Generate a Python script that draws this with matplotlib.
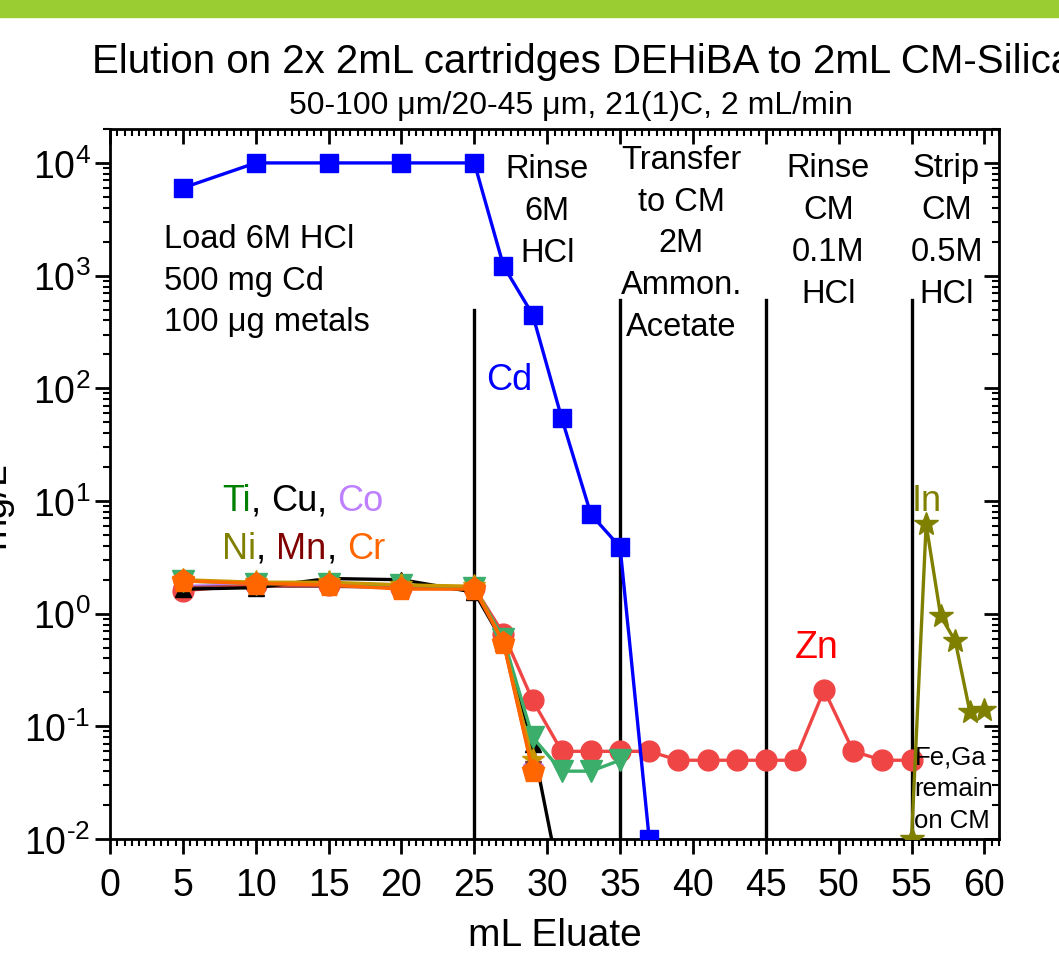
import matplotlib
matplotlib.use("Agg")
import matplotlib.pyplot as plt
from matplotlib.ticker import MultipleLocator, LogLocator, NullFormatter, FuncFormatter
import numpy as np

plt.rcParams["font.family"] = ["Liberation Sans", "DejaVu Sans"]
plt.rcParams["mathtext.fontset"] = "custom"
plt.rcParams["mathtext.rm"] = "Liberation Sans"
plt.rcParams["mathtext.it"] = "Liberation Sans:italic"

# data (mg/L vs mL eluate)
x_cd = [5, 10, 15, 20, 25, 27, 29, 31, 33, 35, 37]
cd = [6000, 10000, 10000, 10000, 10000, 1220, 450, 54, 7.6, 3.9, 0.01]

x_zn = [5, 10, 15, 20, 25, 27, 29, 31, 33, 35, 37, 39, 41, 43, 45, 47, 49, 51, 53, 55]
zn = [1.6, 1.8, 1.8, 1.7, 1.7, 0.66, 0.17, 0.06, 0.06, 0.06, 0.06, 0.05, 0.05,
      0.05, 0.05, 0.05, 0.21, 0.06, 0.05, 0.05]

x_ti = [5, 10, 15, 20, 25, 27, 29, 31, 33, 35]
ti = [1.95, 1.85, 1.85, 1.8, 1.7, 0.6, 0.08, 0.04, 0.04, 0.05]

x_cu = [5, 10, 15, 20, 25, 27, 29, 31]
cu = [1.65, 1.7, 2.05, 2.0, 1.55, 0.55, 0.07, 0.0035]

x_metal = [5, 10, 15, 20, 25, 27, 29]
co = [1.75, 1.8, 1.8, 1.7, 1.7, 0.58, 0.045]
mn = [1.7, 1.75, 1.75, 1.7, 1.65, 0.56, 0.042]
ni = [2.0, 1.9, 1.9, 1.8, 1.75, 0.55, 0.05]
cr = [1.95, 1.85, 1.8, 1.65, 1.65, 0.55, 0.04]

x_in = [55, 56, 57, 58, 59, 60]
indium = [0.01, 6.2, 0.95, 0.57, 0.135, 0.14]

step_edges = [25, 35, 45, 55]
step_tops = [500, 610, 610, 610]

fig = plt.figure(figsize=(10.59, 9.62), dpi=100)
ax = fig.add_axes([110 / 1059, 122 / 962, 889 / 1059, 710 / 962])

# green strip at the top of the slide
fig.patches.append(plt.Rectangle((0, 1 - 18 / 962), 1, 18 / 962, transform=fig.transFigure,
                                 color="#9acd32", zorder=0))

for xe, yt in zip(step_edges, step_tops):
    ax.plot([xe, xe], [0.01, yt], color="black", lw=2.4, zorder=2)

lw = 2.4
ax.plot(x_metal, co, color="#bf80ff", marker="D", ms=10, lw=lw, zorder=3)
ax.plot(x_metal, mn, color="#8b4040", marker="v", ms=12, lw=lw, zorder=3)
ax.plot(x_zn, zn, color="#ef4545", marker="o", ms=15, lw=lw, zorder=3)
ax.plot(x_cu, cu, color="black", marker="^", ms=11, lw=lw, zorder=3)
ax.plot(x_ti, ti, color="#3aae6a", marker="v", ms=16, lw=lw, zorder=4)
ax.plot(x_metal, ni, color="#c89600", marker="*", ms=17, lw=lw, zorder=4)
ax.plot(x_metal, cr, color="#ff6600", marker="p", ms=17, lw=lw, zorder=5)
ax.plot(x_in, indium, color="#808000", marker="*", ms=18, lw=lw, zorder=5)
ax.plot(x_cd, cd, color="#0000ff", marker="s", ms=13, lw=lw, zorder=6)

ax.set_yscale("log")
ax.set_xlim(0, 61)
ax.set_ylim(0.01, 2e4)


def pow_label(v, pos):
    e = int(round(np.log10(v)))
    if e < 0:
        return r"$\mathregular{10^{\text{-}%d}}$" % (-e)
    return r"$\mathregular{10^{%d}}$" % e


ax.xaxis.set_major_locator(MultipleLocator(5))
ax.xaxis.set_minor_locator(MultipleLocator(0.5))
ax.yaxis.set_major_locator(LogLocator(base=10, numticks=10))
ax.yaxis.set_major_formatter(FuncFormatter(pow_label))
ax.yaxis.set_minor_locator(LogLocator(base=10, subs=range(2, 10), numticks=10))
ax.yaxis.set_minor_formatter(NullFormatter())

ax.tick_params(which="major", direction="out", length=11, width=2, labelsize=27, pad=3)
ax.tick_params(axis="x", which="major", pad=9)
ax.tick_params(which="minor", direction="out", length=5, width=1.5)
for s in ax.spines.values():
    s.set_linewidth(2)

# inward ticks on top and right
top = ax.secondary_xaxis("top")
top.xaxis.set_major_locator(MultipleLocator(5))
top.xaxis.set_minor_locator(MultipleLocator(0.5))
top.tick_params(which="major", direction="in", length=11, width=2, labeltop=False)
top.tick_params(which="minor", direction="in", length=5, width=1.5)
right = ax.secondary_yaxis("right")
right.yaxis.set_major_locator(LogLocator(base=10, numticks=10))
right.yaxis.set_minor_locator(LogLocator(base=10, subs=range(2, 10), numticks=10))
right.tick_params(which="major", direction="in", length=11, width=2, labelright=False)
right.tick_params(which="minor", direction="in", length=5, width=1.5, labelright=False)
right.yaxis.set_minor_formatter(NullFormatter())

ax.set_xlabel("mL Eluate", fontsize=28, labelpad=10)
fig.text(12 / 1059, 1 - 505 / 962, "mg/L", rotation=90, ha="right", va="center", fontsize=28)

fig.text(92 / 1059, 1 - 73 / 962, "Elution on 2x 2mL cartridges DEHiBA to 2mL CM-Silica",
         fontsize=29, ha="left", va="baseline")
fig.text(571 / 1059, 1 - 114 / 962, "50-100 μm/20-45 μm, 21(1)C, 2 mL/min",
         fontsize=23, ha="center", va="baseline")

# annotations
ann = dict(fontsize=23.5, linespacing=1.45)
ax.text(3.7, 10 ** 2.96, "Load 6M HCl\n500 mg Cd\n100 μg metals", ha="left", va="center", **ann)
ax.text(30.0, 10 ** 3.58, "Rinse\n6M\nHCl", ha="center", va="center", **ann)
ax.text(39.2, 10 ** 3.29, "Transfer\nto CM\n2M\nAmmon.\nAcetate", ha="center", va="center", **ann)
ax.text(49.3, 10 ** 3.4, "Rinse\nCM\n0.1M\nHCl", ha="center", va="center", **ann)
ax.text(57.4, 10 ** 3.4, "Strip\nCM\n0.5M\nHCl", ha="center", va="center", **ann)

ax.text(25.8, 10 ** 2.08, "Cd", color="#0000ff", fontsize=26, ha="left", va="center")
ax.text(48.5, 10 ** -0.3, "Zn", color="#ff0000", fontsize=27, ha="center", va="center")
ax.text(55.0, 10 ** 1.0, "In", color="#808000", fontsize=26, ha="left", va="center")
ax.text(55.2, 10 ** -1.55, "Fe,Ga\nremain\non CM", fontsize=18.5, ha="left", va="center",
        linespacing=1.4)


# coloured element labels
def colored_line(x, y, parts):
    t = None
    for s, c in parts:
        if t is None:
            t = ax.text(x, y, s, color=c, fontsize=26, ha="left", va="center")
        else:
            t = ax.annotate(s, xycoords=t, xy=(1, 0), va="bottom", color=c, fontsize=26)
    return t


colored_line(7.7, 10 ** 1.0, [("Ti", "#008000"), (", ", "black"), ("Cu", "black"),
                              (", ", "black"), ("Co", "#bf80ff")])
colored_line(7.7, 10 ** 0.58, [("Ni", "#808000"), (", ", "black"), ("Mn", "#800000"),
                               (", ", "black"), ("Cr", "#ff6600")])

fig.savefig("out.png", dpi=100)
